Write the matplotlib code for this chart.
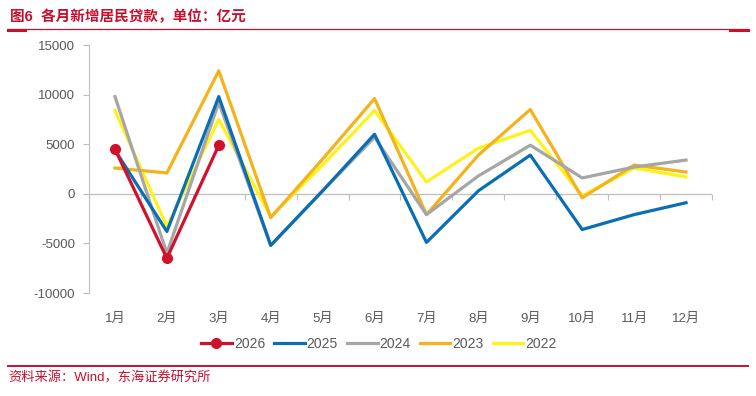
import matplotlib
matplotlib.use("Agg")
import matplotlib.pyplot as plt
from matplotlib.lines import Line2D
import numpy as np

plt.rcParams['font.family'] = ['Liberation Sans', 'Noto Sans CJK SC', 'DejaVu Sans']
plt.rcParams['axes.unicode_minus'] = False

# data (亿元)
months = ["1月", "2月", "3月", "4月", "5月", "6月",
          "7月", "8月", "9月", "10月", "11月", "12月"]
y2026 = [4500, -6500, 4900]
y2025 = [4400, -3800, 9800, -5200, 300, 6000,
         -4900, 300, 3900, -3600, -2100, -900]
y2024 = [9800, -6000, 9200, -5200, 300, 5700,
         -2100, 1800, 4900, 1600, 2700, 3400]
y2023 = [2600, 2100, 12400, -2400, 3500, 9600,
         -2100, 3900, 8500, -400, 2900, 2200]
y2022 = [8400, -3300, 7500, -2300, 2900, 8400,
         1200, 4600, 6400, -200, 2600, 1700]

title = "图6  各月新增居民贷款，单位：亿元"
source = "资料来源：Wind，东海证券研究所"

RED = "#C8102E"
series = [
    ("2026", y2026, "#D0112B"),
    ("2025", y2025, "#0A6EB4"),
    ("2024", y2024, "#A6A6A6"),
    ("2023", y2023, "#F5B21A"),
    ("2022", y2022, "#FFF21A"),
]

fig = plt.figure(figsize=(7.56, 3.96), dpi=100)
ax = fig.add_axes([89 / 756, 1 - 293 / 396, 623 / 756, 248 / 396])

x = np.arange(len(months))
# draw older years first so 2026 sits on top
for name, vals, col in series[::-1]:
    xs = x[:len(vals)]
    if name == "2026":
        ax.plot(xs, vals, color=col, lw=2.3, marker="o", ms=7, zorder=6)
    else:
        ax.plot(xs, vals, color=col, lw=2.3, zorder=3)

ymin, ymax = -10000, 15000
ax.set_ylim(ymin, ymax)
ax.set_xlim(-0.5, len(months) - 0.5)
ax.set_yticks(np.arange(ymin, ymax + 1, 5000))

tick_col = "#595959"
axis_col = "#BFBFBF"
for s in ["top", "right", "bottom"]:
    ax.spines[s].set_visible(False)
ax.spines["left"].set_color(axis_col)
ax.tick_params(axis="y", colors=axis_col, labelcolor=tick_col, labelsize=9.5,
               length=4, width=0.8, pad=6)
ax.set_xticks(x)
ax.set_xticklabels(months)
ax.tick_params(axis="x", length=0, labelcolor=tick_col, labelsize=9.5, pad=14)

# zero line with boundary ticks
ax.axhline(0, color=axis_col, lw=0.9, zorder=1)
sec = ax.secondary_xaxis((0 - ymin) / (ymax - ymin))
sec.set_xticks(np.arange(-0.5, len(months), 1.0))
sec.set_xticklabels([])
sec.spines["bottom"].set_visible(False)
sec.tick_params(axis="x", direction="out", length=4, color=axis_col, width=0.8)

handles = []
for name, vals, col in series:
    if name == "2026":
        handles.append(Line2D([], [], color=col, lw=2.3, marker="o", ms=7))
    else:
        handles.append(Line2D([], [], color=col, lw=2.3))
fig.legend(handles, [s[0] for s in series], loc="center",
           bbox_to_anchor=(379 / 756, 1 - 344 / 396), ncol=5, frameon=False,
           fontsize=10, handlelength=2.2, handletextpad=0.15,
           columnspacing=0.65, labelcolor=tick_col)

# header / footer
fig.text(10 / 756, 1 - 17 / 396, title, color=RED, fontsize=10.5,
         fontweight="bold", va="center", ha="left")
fig.add_artist(Line2D([8 / 756, 748 / 756], [1 - 29 / 396] * 2,
                      color=RED, lw=0.9))
fig.add_artist(Line2D([8 / 756, 25 / 756], [1 - 29.5 / 396] * 2,
                      color=RED, lw=2.2))
fig.add_artist(Line2D([730 / 756, 748 / 756], [1 - 29.5 / 396] * 2,
                      color=RED, lw=2.2))
fig.add_artist(Line2D([8 / 756, 748 / 756], [1 - 365.5 / 396] * 2,
                      color=RED, lw=1.4))
fig.text(8 / 756, 1 - 378 / 396, source, color=RED, fontsize=9.5,
         va="center", ha="left")

fig.savefig("out.png", dpi=100)
